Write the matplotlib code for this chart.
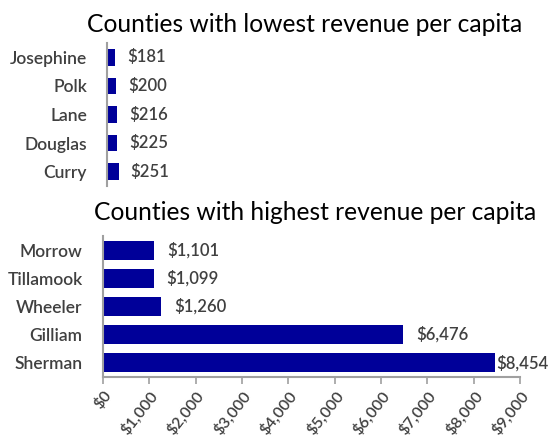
import matplotlib
matplotlib.use('Agg')
import matplotlib.pyplot as plt

low_names = ['Josephine', 'Polk', 'Lane', 'Douglas', 'Curry']
low_values = [181, 200, 216, 225, 251]
high_names = ['Morrow', 'Tillamook', 'Wheeler', 'Gilliam', 'Sherman']
high_values = [1101, 1099, 1260, 6476, 8454]
ticks = [0, 1000, 2000, 3000, 4000, 5000, 6000, 7000, 8000, 9000]

bar_color = '#000099'
text_color = '#404040'
spine_color = '#a0a0a0'
plt.rcParams['font.family'] = ['Lato', 'DejaVu Sans']

W, H = 553, 445
fig = plt.figure(figsize=(5.53, 4.45), dpi=100)

# top chart - lowest
ax1 = fig.add_axes([107/W, 1-186/H, 413/W, 143/H])
y1 = list(range(len(low_names)))[::-1]
ax1.barh(y1, low_values, height=0.58, color=bar_color)
for y, v in zip(y1, low_values):
    ax1.text(v + 260, y, '${:,}'.format(v), va='center', ha='left', fontsize=12, color=text_color, fontweight='semibold')
ax1.set_xlim(0, 9000)
ax1.set_ylim(-0.5, 4.5)
ax1.set_yticks(y1)
ax1.set_yticklabels(low_names, fontsize=12.5, color=text_color, fontweight='semibold')
ax1.tick_params(axis='y', length=0, pad=14.4)
ax1.set_xticks([])
for s in ['top', 'right', 'bottom']:
    ax1.spines[s].set_visible(False)
ax1.spines['left'].set_color(spine_color)
ax1.spines['left'].set_linewidth(1.5)
fig.text(304.5/W, 1-32/H, 'Counties with lowest revenue per capita', ha='center', va='baseline', fontsize=17.7)

# bottom chart - highest
ax2 = fig.add_axes([102.7/W, 1-377/H, 417.6/W, 141/H])
y2 = list(range(len(high_names)))[::-1]
ax2.barh(y2, high_values, height=0.68, color=bar_color)
for y, v in zip(y2, high_values):
    off = 20 if v > 8000 else 280
    ax2.text(v + off, y, '${:,}'.format(v), va='center', ha='left', fontsize=12, color=text_color, fontweight='semibold')
ax2.set_xlim(0, 9000)
ax2.set_ylim(-0.5, 4.5)
ax2.set_yticks(y2)
ax2.set_yticklabels(high_names, fontsize=12.5, color=text_color, fontweight='semibold')
ax2.tick_params(axis='y', length=0, pad=14.4)
ax2.set_xticks(ticks)
ax2.set_xticklabels(['${:,}'.format(t) for t in ticks], rotation=52, ha='right', rotation_mode='anchor', fontsize=11.5, color=text_color, fontweight='semibold')
ax2.tick_params(axis='x', length=5, color=spine_color, width=1.2, pad=3)
for s in ['top', 'right']:
    ax2.spines[s].set_visible(False)
for s in ['left', 'bottom']:
    ax2.spines[s].set_color(spine_color)
    ax2.spines[s].set_linewidth(1.5)
fig.text(315/W, 1-220/H, 'Counties with highest revenue per capita', ha='center', va='baseline', fontsize=17.7)

fig.savefig('out.png', dpi=100)
